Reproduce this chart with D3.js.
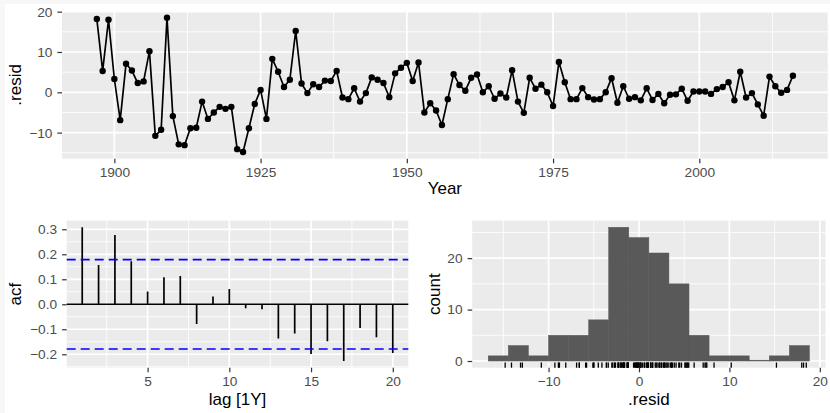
<!DOCTYPE html>
<html>
<head>
<meta charset="utf-8">
<script src="https://cdn.jsdelivr.net/npm/d3@7"></script>
<style>
    html, body { margin: 0; padding: 0; background: #fff; }
    svg { display: block; font-family: "Liberation Sans", Arial, Helvetica, sans-serif; }
</style>
</head>
<body>
<svg id="chart" width="830" height="413"></svg>
<script>
// ---- data ----
const years = d3.range(1897, 2017);
const resid = [
    18.2, 5.3, 18.0, 3.3, -6.9, 7.1, 5.4, 2.3, 2.7, 10.2,
    -10.8, -9.3, 18.5, -5.9, -12.9, -13.1, -8.9, -8.8, -2.3, -6.6,
    -5.0, -3.6, -4.1, -3.6, -14.1, -14.8, -8.9, -2.9, 0.6, -6.6,
    8.3, 5.1, 1.3, 3.1, 15.2, 2.2, -0.2, 2.0, 1.3, 2.9,
    2.8, 5.3, -1.3, -1.7, 1.0, -2.3, -0.2, 3.7, 3.1, 2.3,
    -1.2, 4.7, 6.1, 7.3, 2.8, 7.4, -5.0, -2.7, -4.5, -8.1,
    -1.7, 4.5, 1.8, 0.4, 3.6, 4.4, 0.0, 1.5, -1.6, -0.3,
    -1.3, 5.5, -2.3, -5.1, 3.6, 0.9, 1.9, 0.0, -3.4, 7.5,
    2.5, -1.7, -1.7, 1.05, -1.2, -1.8, -1.7, 0.0, 3.5, -2.6,
    1.5, -1.6, -1.2, -2.0, 1.0, -1.9, -0.4, -2.7, -0.6, -0.5,
    0.9, -2.1, 0.2, 0.2, 0.2, -0.4, 0.8, 1.3, 2.5, -2.0,
    5.1, -1.3, -0.2, -3.0, -5.8, 3.9, 1.5, -0.1, 0.6, 4.1
];
const lags = d3.range(1, 21);
const acfValues = [
    0.308, 0.157, 0.277, 0.172, 0.051, 0.108, 0.113, -0.079, 0.031, 0.061,
    -0.016, -0.020, -0.137, -0.117, -0.199, -0.148, -0.227, -0.095, -0.132, -0.195
];
const acfBound = 0.179;
const histStart = -16.67;
const histBinWidth = 2.22;
const histBinCount = 16;

const yearTicks = [1900, 1925, 1950, 1975, 2000];
const residTicks = [-10, 0, 10, 20];
const lagTicks = [5, 10, 15, 20];
const acfTicks = [-0.2, -0.1, 0.0, 0.1, 0.2, 0.3];
const histXTicks = [-10, 0, 10, 20];
const countTicks = [0, 10, 20];

// ---- layout / style ----
const tickFont = 13.7;
const titleFont = 17;
const panelTop = { left: 62, right: 827.7, top: 11, bottom: 158.7 };
const panelAcf = { left: 66.7, right: 408.3, top: 220.6, bottom: 367.7 };
const panelHist = { left: 472.2, right: 825.5, top: 220.6, bottom: 367.7 };

const svg = d3.select('#chart');

// light strip along top/left edge of the screenshot
svg.append('rect').attr('width', 830).attr('height', 413).attr('fill', '#f7f7f7');
svg.append('rect').attr('x', 5).attr('y', 4).attr('width', 825).attr('height', 409).attr('fill', '#ffffff');

function expand(ext, mult = 0.05) {
    const pad = (ext[1] - ext[0]) * mult;
    return [ext[0] - pad, ext[1] + pad];
}

function minorOf(ticks, domain) {
    const step = ticks[1] - ticks[0];
    const out = [ticks[0] - step / 2].concat(ticks.map(t => t + step / 2));
    return out.filter(v => v >= domain[0] && v <= domain[1]);
}

function drawPanel(box, x, y, xTicks, yTicks, xFmt, yFmt) {
    const g = svg.append('g');
    g.append('rect')
        .attr('x', box.left).attr('y', box.top)
        .attr('width', box.right - box.left).attr('height', box.bottom - box.top)
        .attr('fill', '#ebebeb');

    // minor grid
    g.selectAll('.vminor').data(minorOf(xTicks, x.domain())).join('line')
        .attr('x1', d => x(d)).attr('x2', d => x(d))
        .attr('y1', box.top).attr('y2', box.bottom)
        .attr('stroke', '#fff').attr('stroke-width', 0.85);
    g.selectAll('.hminor').data(minorOf(yTicks, y.domain())).join('line')
        .attr('y1', d => y(d)).attr('y2', d => y(d))
        .attr('x1', box.left).attr('x2', box.right)
        .attr('stroke', '#fff').attr('stroke-width', 0.85);

    // major grid
    g.selectAll('.vmajor').data(xTicks).join('line')
        .attr('x1', d => x(d)).attr('x2', d => x(d))
        .attr('y1', box.top).attr('y2', box.bottom)
        .attr('stroke', '#fff').attr('stroke-width', 1.7);
    g.selectAll('.hmajor').data(yTicks).join('line')
        .attr('y1', d => y(d)).attr('y2', d => y(d))
        .attr('x1', box.left).attr('x2', box.right)
        .attr('stroke', '#fff').attr('stroke-width', 1.7);

    // axes
    const xAxis = svg.append('g')
        .attr('transform', `translate(0,${box.bottom})`)
        .call(d3.axisBottom(x).tickValues(xTicks).tickFormat(xFmt).tickSize(4.6).tickPadding(3.6));
    const yAxis = svg.append('g')
        .attr('transform', `translate(${box.left},0)`)
        .call(d3.axisLeft(y).tickValues(yTicks).tickFormat(yFmt).tickSize(4.6).tickPadding(5));

    [xAxis, yAxis].forEach(a => {
        a.select('.domain').remove();
        a.selectAll('.tick line').attr('stroke', '#333333').attr('stroke-width', 1.2);
        a.selectAll('.tick text')
            .attr('fill', '#4d4d4d')
            .style('font-size', tickFont + 'px')
            .style('font-family', '"Liberation Sans", Arial, sans-serif');
    });
    return g;
}

function xTitle(box, text, baseline) {
    svg.append('text')
        .attr('x', (box.left + box.right) / 2)
        .attr('y', baseline)
        .attr('text-anchor', 'middle')
        .attr('fill', '#000')
        .style('font-size', titleFont + 'px')
        .text(text);
}

function yTitle(box, text, baselineX) {
    svg.append('text')
        .attr('transform', `translate(${baselineX},${(box.top + box.bottom) / 2}) rotate(-90)`)
        .attr('text-anchor', 'middle')
        .attr('fill', '#000')
        .style('font-size', titleFont + 'px')
        .text(text);
}

// ---- top: residual time series ----
const xYear = d3.scaleLinear()
    .domain(expand(d3.extent(years)))
    .range([panelTop.left, panelTop.right]);
const yResid = d3.scaleLinear()
    .domain(expand(d3.extent(resid)))
    .range([panelTop.bottom, panelTop.top]);

const topPanel = drawPanel(panelTop, xYear, yResid, yearTicks, residTicks, d3.format('d'), d3.format('d'));

const series = years.map((yr, i) => ({ year: yr, value: resid[i] }));

topPanel.append('path')
    .datum(series)
    .attr('fill', 'none')
    .attr('stroke', '#000')
    .attr('stroke-width', 1.7)
    .attr('stroke-linejoin', 'round')
    .attr('d', d3.line().x(d => xYear(d.year)).y(d => yResid(d.value)));

topPanel.selectAll('circle')
    .data(series)
    .join('circle')
    .attr('cx', d => xYear(d.year))
    .attr('cy', d => yResid(d.value))
    .attr('r', 3.2)
    .attr('fill', '#000');

xTitle(panelTop, 'Year', panelTop.bottom + 35.5);
yTitle(panelTop, '.resid', 21);

// ---- bottom left: ACF ----
const xLag = d3.scaleLinear()
    .domain(expand(d3.extent(lags)))
    .range([panelAcf.left, panelAcf.right]);
const yAcf = d3.scaleLinear()
    .domain(expand([Math.min(d3.min(acfValues), -acfBound), Math.max(d3.max(acfValues), acfBound)]))
    .range([panelAcf.bottom, panelAcf.top]);

const acfPanel = drawPanel(panelAcf, xLag, yAcf, lagTicks, acfTicks, d3.format('d'), d3.format('.1f'));

acfPanel.selectAll('.acfbar')
    .data(lags.map((l, i) => ({ lag: l, value: acfValues[i] })))
    .join('line')
    .attr('x1', d => xLag(d.lag)).attr('x2', d => xLag(d.lag))
    .attr('y1', yAcf(0)).attr('y2', d => yAcf(d.value))
    .attr('stroke', '#000').attr('stroke-width', 1.7);

acfPanel.append('line')
    .attr('x1', panelAcf.left).attr('x2', panelAcf.right)
    .attr('y1', yAcf(0)).attr('y2', yAcf(0))
    .attr('stroke', '#000').attr('stroke-width', 1.7);

acfPanel.selectAll('.ci')
    .data([acfBound, -acfBound])
    .join('line')
    .attr('x1', panelAcf.left).attr('x2', panelAcf.right)
    .attr('y1', d => yAcf(d)).attr('y2', d => yAcf(d))
    .attr('stroke', '#0000ff').attr('stroke-width', 1.7)
    .attr('stroke-dasharray', '9,5');

xTitle(panelAcf, 'lag [1Y]', panelAcf.bottom + 37);
yTitle(panelAcf, 'acf', 20.5);

// ---- bottom right: histogram + rug ----
const histEnd = histStart + histBinCount * histBinWidth;
const bins = d3.bin()
    .domain([histStart, histEnd])
    .thresholds(d3.range(1, histBinCount).map(i => histStart + i * histBinWidth))(resid);

const xHist = d3.scaleLinear()
    .domain(expand([histStart, histEnd]))
    .range([panelHist.left, panelHist.right]);
const yCount = d3.scaleLinear()
    .domain(expand([0, d3.max(bins, b => b.length)]))
    .range([panelHist.bottom, panelHist.top]);

const histPanel = drawPanel(panelHist, xHist, yCount, histXTicks, countTicks, d3.format('d'), d3.format('d'));

histPanel.selectAll('.bar')
    .data(bins)
    .join('rect')
    .attr('x', d => xHist(d.x0))
    .attr('width', d => xHist(d.x1) - xHist(d.x0))
    .attr('y', d => Math.min(yCount(d.length), yCount(0) - 0.8))
    .attr('height', d => Math.max(yCount(0) - yCount(d.length), 0.8))
    .attr('fill', '#595959')
    .attr('stroke', '#595959')
    .attr('stroke-width', 0.5);

const rugLen = 0.035 * (panelHist.bottom - panelHist.top);
histPanel.selectAll('.rug')
    .data(resid)
    .join('line')
    .attr('x1', d => xHist(d)).attr('x2', d => xHist(d))
    .attr('y1', panelHist.bottom).attr('y2', panelHist.bottom - rugLen)
    .attr('stroke', '#000').attr('stroke-width', 1.3);

xTitle(panelHist, '.resid', panelHist.bottom + 37);
yTitle(panelHist, 'count', 440);
</script>
</body>
</html>
